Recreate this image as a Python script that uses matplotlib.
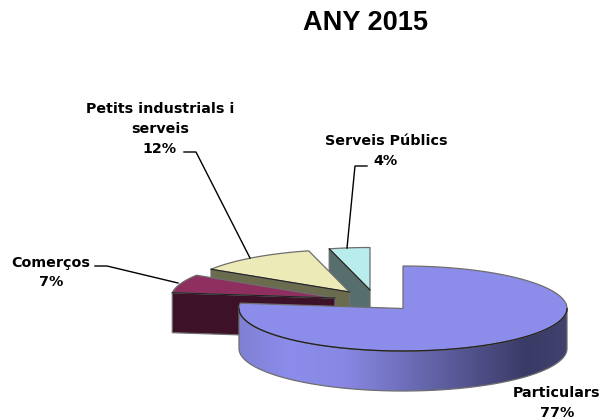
"""Exploded 3D-style pie chart of the 2015 shares."""

import matplotlib

matplotlib.use("Agg")

import matplotlib.pyplot as plt
import numpy as np
from matplotlib.colors import LinearSegmentedColormap
from matplotlib.patches import Polygon


TITLE = "ANY 2015"
CATEGORIES = ["Particulars", "Comerços", "Petits industrials i\nserveis", "Serveis Públics"]
SHARES = [77, 7, 12, 4]

WIDTH, HEIGHT = 602, 419
RADIUS_X, RADIUS_Y = 164, 42.5
DEPTH = 40
EDGE = "#6e6e6e"
RIDGE = "#222222"

# slice apex in pixels, top colour and cut face colour
CENTERS = [(403, 308.5), (335, 298), (349.5, 292), (370, 290)]
TOP_COLORS = ["#8c8ceb", "#8f2f5f", "#ecebb8", "#b9ecec"]
FACE_COLORS = [None, "#3d1229", "#6b6b4d", "#566e6e"]

LABEL_POS = [(557, 403), (51, 272.5), (160, 129), (386, 151)]
LEADERS = [
    None,
    [(95, 266), (107, 266), (178, 283)],
    [(184, 152), (196, 152), (250, 258)],
    [(367, 166), (355, 166), (347, 248)],
]

WALL_CMAP = LinearSegmentedColormap.from_list(
    "wall",
    [(0.0, "#8080d4"), (0.15, "#8c8ceb"), (0.32, "#8888e4"), (0.88, "#3a3a66"), (1.0, "#42426f")],
)


def rim_points(center, start, end):
    """Points on the slice rim, angles in degrees clockwise from 12 o'clock."""
    angles = np.radians(np.linspace(start, end, 200))
    x = center[0] + RADIUS_X * np.sin(angles)
    y = center[1] - RADIUS_Y * np.cos(angles)
    return np.column_stack([x, y])


def slice_angles():
    """Start and end angle of each slice, going clockwise from the top."""
    edges = np.cumsum([0] + SHARES) / sum(SHARES) * 360
    return list(zip(edges[:-1], edges[1:]))


def draw_back_slice(ax, index, start, end, zorder):
    center = CENTERS[index]
    rim = rim_points(center, start, end)
    first = rim[0]
    # cut face runs from the apex to the start of the rim, pushed down by DEPTH
    face = [first, center, (center[0], center[1] + DEPTH), (first[0], first[1] + DEPTH)]
    ax.add_patch(Polygon(face, closed=True, fc=FACE_COLORS[index], ec=EDGE, lw=0.9, zorder=zorder))
    top = np.vstack([[center], rim])
    ax.add_patch(Polygon(top, closed=True, fc=TOP_COLORS[index], ec=EDGE, lw=0.9, zorder=zorder + 0.5))
    ax.plot([first[0], center[0]], [first[1], center[1]], color=RIDGE, lw=0.8, zorder=zorder + 0.6)


def draw_main_slice(ax, start, end, zorder):
    center = CENTERS[0]
    front = rim_points(center, 90, 270)
    wall = np.vstack([front, front[::-1] + [0, DEPTH]])
    patch = Polygon(wall, closed=True, fc="none", ec=EDGE, lw=0.9, zorder=zorder + 0.2)
    ax.add_patch(patch)

    gradient = np.linspace(0, 1, 256).reshape(1, -1)
    image = ax.imshow(
        gradient,
        cmap=WALL_CMAP,
        extent=(center[0] - RADIUS_X, center[0] + RADIUS_X, HEIGHT, 0),
        aspect="auto",
        zorder=zorder,
    )
    clip = Polygon(wall, closed=True, transform=ax.transData)
    image.set_clip_path(clip)

    top = np.vstack([[center], rim_points(center, start, end)])
    ax.add_patch(Polygon(top, closed=True, fc=TOP_COLORS[0], ec=EDGE, lw=0.9, zorder=zorder + 0.5))
    ax.plot(front[:, 0], front[:, 1], color=RIDGE, lw=0.9, zorder=zorder + 0.6)


def main():
    fig = plt.figure(figsize=(WIDTH / 100, HEIGHT / 100), dpi=100)
    ax = fig.add_axes([0, 0, 1, 1])

    angles = slice_angles()
    # back slices first, the big one goes over them
    for index, zorder in [(3, 1), (2, 2), (1, 3)]:
        draw_back_slice(ax, index, angles[index][0], angles[index][1], zorder)
    draw_main_slice(ax, angles[0][0], angles[0][1], 4)

    ax.set_xlim(0, WIDTH)
    ax.set_ylim(HEIGHT, 0)
    ax.axis("off")

    for leader in LEADERS:
        if leader:
            xs, ys = zip(*leader)
            ax.plot(xs, ys, color="black", lw=1.0, zorder=6)

    for name, share, (x, y) in zip(CATEGORIES, SHARES, LABEL_POS):
        ax.text(
            x,
            y,
            f"{name}\n{share}%",
            ha="center",
            va="center",
            fontsize=10.3,
            fontweight="bold",
            family="DejaVu Sans",
            linespacing=1.52,
            zorder=7,
        )

    ax.text(365.5, 23.5, TITLE, ha="center", va="center", fontsize=19.5, fontweight="bold", family="Liberation Sans")

    fig.savefig("out.png", dpi=100)
    plt.close(fig)


if __name__ == "__main__":
    main()
